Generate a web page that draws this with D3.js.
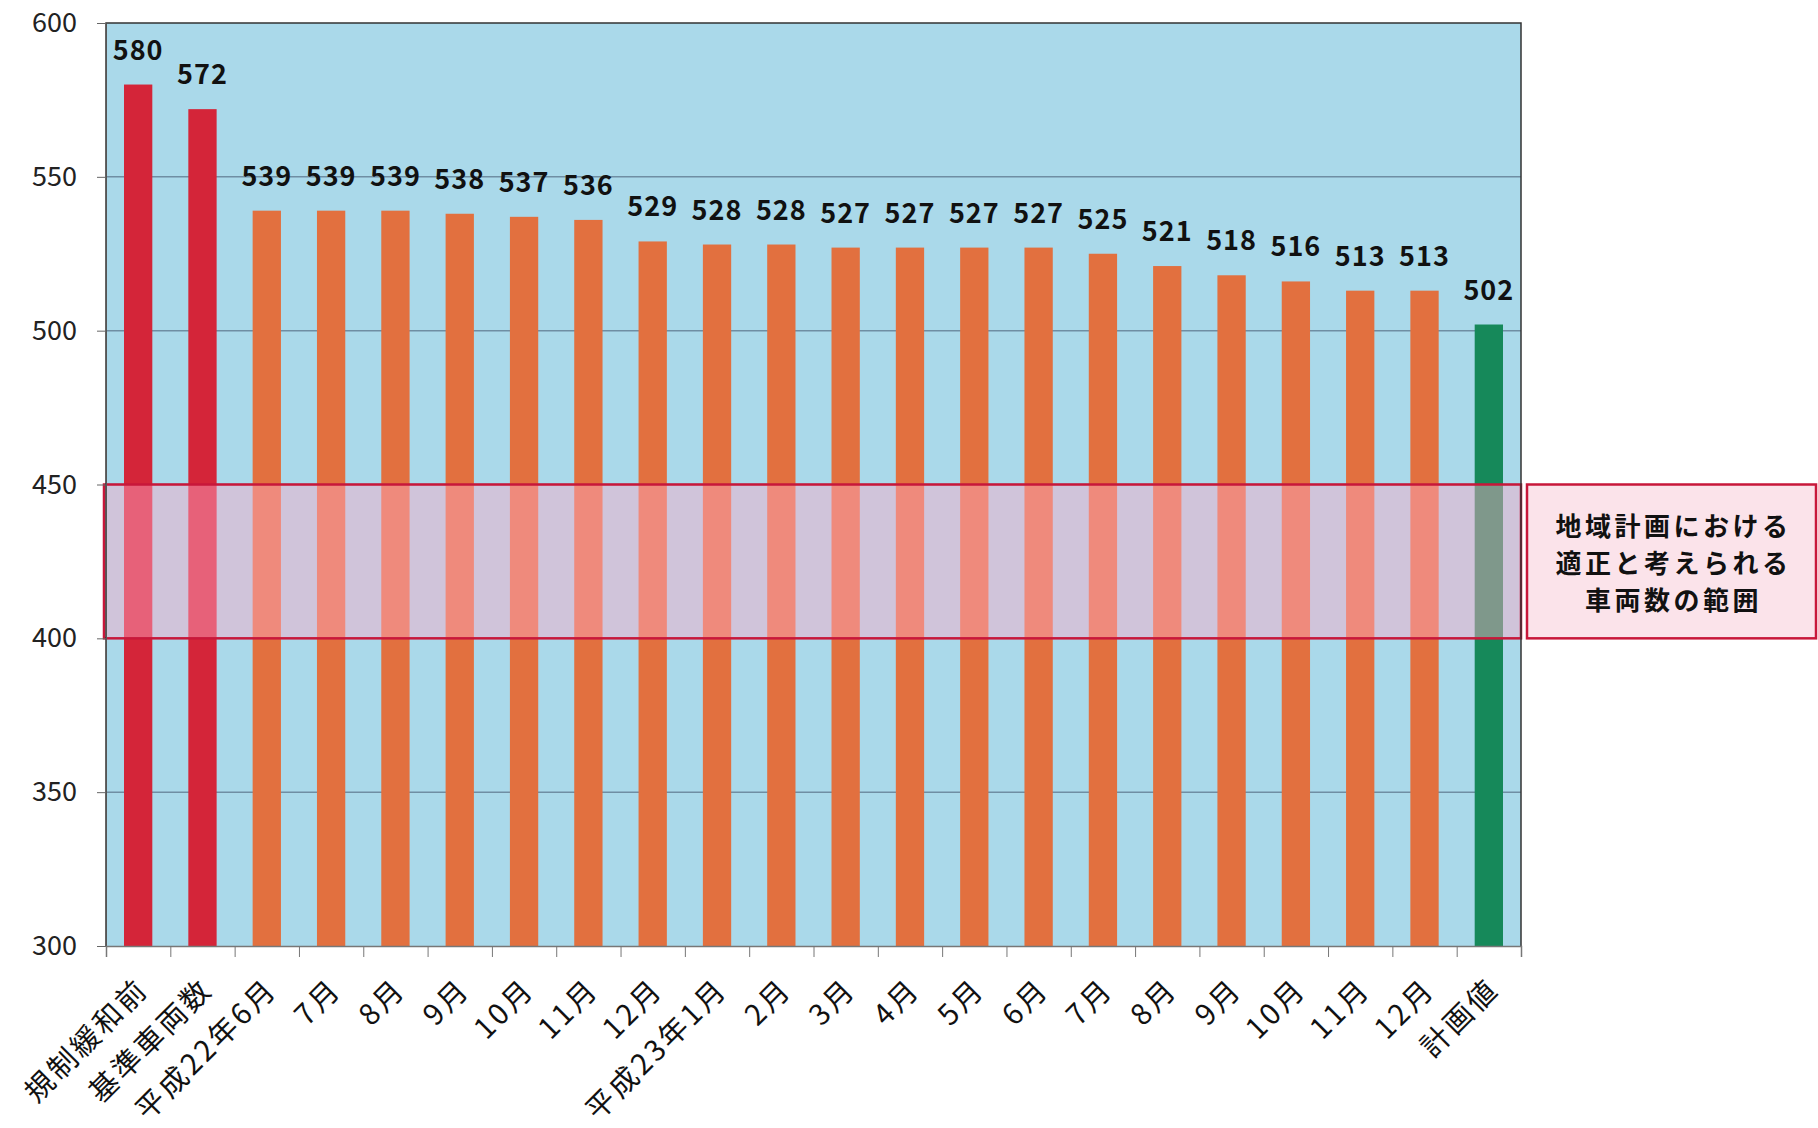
<!DOCTYPE html>
<html>
<head>
<meta charset="utf-8">
<script src="https://cdn.jsdelivr.net/npm/d3@7"></script>
<style>
  html, body { margin: 0; padding: 0; background: #fff; }
  svg { display: block; font-family: "Noto Sans CJK JP", "Noto Sans", sans-serif; }
</style>
</head>
<body>
<div id="chart"></div>
<script>
// Categories along the x axis (in order)
const categories = ["規制緩和前", "基準車両数", "平成22年6月", "7月", "8月", "9月", "10月", "11月", "12月",
  "平成23年1月", "2月", "3月", "4月", "5月", "6月", "7月", "8月", "9月", "10月", "11月", "12月", "計画値"];
// Vehicle counts
const values = [580, 572, 539, 539, 539, 538, 537, 536, 529, 528, 528, 527, 527, 527, 527, 525, 521, 518, 516, 513, 513, 502];
// Bar kind: before/base, monthly, plan
const kinds = ["base", "base", "month", "month", "month", "month", "month", "month", "month", "month", "month",
  "month", "month", "month", "month", "month", "month", "month", "month", "month", "month", "plan"];
const yTicks = [300, 350, 400, 450, 500, 550, 600];
// Appropriate range band
const rangeLow = 400, rangeHigh = 450;
const rangeText = ["地域計画における", "適正と考えられる", "車両数の範囲"];

const width = 1818, height = 1128;
const margin = { top: 23, right: 297, bottom: 182, left: 106 };
const plotW = width - margin.left - margin.right;
const plotH = height - margin.top - margin.bottom;

const colors = { base: "#d42539", month: "#e2703f", plan: "#16895a" };

const svg = d3.select("#chart").append("svg")
  .attr("width", width)
  .attr("height", height);

const idx = d3.range(categories.length);

const x = d3.scaleBand()
  .domain(idx)
  .range([margin.left, margin.left + plotW])
  .paddingInner(0.56)
  .paddingOuter(0.28);

// linear helper for the boundary tick marks
const xb = d3.scaleLinear()
  .domain([0, categories.length])
  .range([margin.left, margin.left + plotW]);

const y = d3.scaleLinear()
  .domain([300, 600])
  .range([margin.top + plotH, margin.top]);

// Plot background
svg.append("rect")
  .attr("x", margin.left)
  .attr("y", margin.top)
  .attr("width", plotW)
  .attr("height", plotH)
  .attr("fill", "#aad9ea");

// Gridlines
svg.append("g")
  .selectAll("line")
  .data(yTicks.filter(d => d > 300 && d < 600))
  .enter()
  .append("line")
  .attr("x1", margin.left)
  .attr("x2", margin.left + plotW)
  .attr("y1", d => y(d))
  .attr("y2", d => y(d))
  .attr("stroke", "#6f8ea3")
  .attr("stroke-width", 1.5);

// Bars
svg.append("g")
  .selectAll("rect")
  .data(idx)
  .enter()
  .append("rect")
  .attr("x", i => x(i))
  .attr("y", i => y(values[i]))
  .attr("width", x.bandwidth())
  .attr("height", i => y(300) - y(values[i]))
  .attr("fill", i => colors[kinds[i]]);

// Value labels
svg.append("g")
  .selectAll("text")
  .data(idx)
  .enter()
  .append("text")
  .attr("x", i => x(i) + x.bandwidth() / 2)
  .attr("y", i => y(values[i]) - 25)
  .attr("text-anchor", "middle")
  .style("font-size", "27px")
  .style("font-weight", "bold")
  .style("letter-spacing", "1px")
  .attr("fill", "#111")
  .text(i => values[i]);

// Range band overlay
svg.append("rect")
  .attr("x", margin.left - 2)
  .attr("y", y(rangeHigh))
  .attr("width", plotW + 2)
  .attr("height", y(rangeLow) - y(rangeHigh))
  .attr("fill", "rgba(255,170,200,0.45)")
  .attr("stroke", "#c8173a")
  .attr("stroke-width", 2.5);

// Plot border (top, right, left)
svg.append("path")
  .attr("d", `M${margin.left},${margin.top + plotH} V${margin.top} H${margin.left + plotW} V${margin.top + plotH}`)
  .attr("fill", "none")
  .attr("stroke", "#333")
  .attr("stroke-width", 1.5);

// Y axis
const yAxis = svg.append("g")
  .attr("transform", `translate(${margin.left},0)`)
  .call(d3.axisLeft(y).tickValues(yTicks).tickSize(9).tickPadding(20));
yAxis.select(".domain").attr("stroke", "#555");
yAxis.selectAll(".tick line").attr("stroke", "#666");
yAxis.selectAll("text")
  .style("font-size", "27px")
  .style("font-family", "'Noto Sans CJK JP', sans-serif")
  .attr("fill", "#222");

// X axis boundary ticks
const xTickAxis = svg.append("g")
  .attr("transform", `translate(0,${margin.top + plotH})`)
  .call(d3.axisBottom(xb).tickValues(d3.range(categories.length + 1)).tickSize(11).tickFormat(""));
xTickAxis.select(".domain").attr("stroke", "#777").attr("stroke-width", 1.5);
xTickAxis.selectAll(".tick line").attr("stroke", "#777");

// X category labels, rotated
svg.append("g")
  .selectAll("text")
  .data(idx)
  .enter()
  .append("text")
  .attr("transform", i => `translate(${x(i) + x.bandwidth() / 2 + 12},${margin.top + plotH + 45}) rotate(-45)`)
  .attr("text-anchor", "end")
  .style("font-size", "29px")
  .style("letter-spacing", "3px")
  .attr("fill", "#111")
  .text(i => categories[i]);

// Range annotation box
const boxX = 1527, boxW = 289;
svg.append("rect")
  .attr("x", boxX)
  .attr("y", y(rangeHigh))
  .attr("width", boxW)
  .attr("height", y(rangeLow) - y(rangeHigh))
  .attr("fill", "#fbe3ea")
  .attr("stroke", "#c8173a")
  .attr("stroke-width", 2.5);

svg.append("g")
  .selectAll("text")
  .data(rangeText)
  .enter()
  .append("text")
  .attr("x", boxX + boxW / 2 + 2)
  .attr("y", (d, i) => (y(rangeHigh) + y(rangeLow)) / 2 - 37 + i * 37)
  .attr("text-anchor", "middle")
  .attr("dominant-baseline", "central")
  .style("font-size", "26px")
  .style("font-weight", "bold")
  .style("letter-spacing", "3.5px")
  .attr("fill", "#111")
  .text(d => d);
</script>
</body>
</html>
